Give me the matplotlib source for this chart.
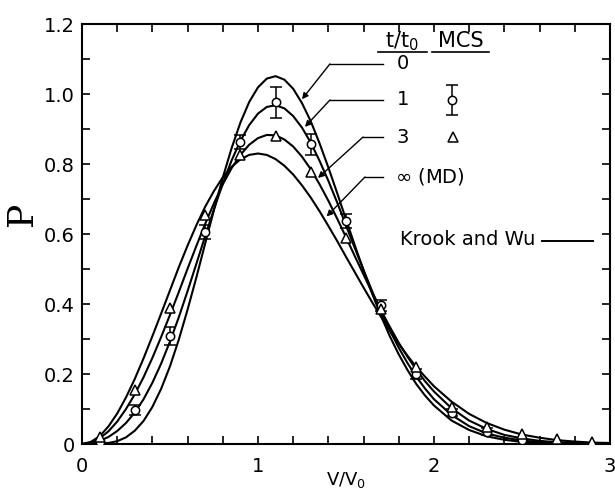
import numpy as np
import matplotlib
matplotlib.use('Agg')
import matplotlib.pyplot as plt
from matplotlib.ticker import MultipleLocator, FixedLocator

# Krook and Wu curves
v_curve = [0.00, 0.05, 0.10, 0.15, 0.20, 0.25, 0.30, 0.35, 0.40, 0.45,
           0.50, 0.55, 0.60, 0.65, 0.70, 0.75, 0.80, 0.85, 0.90, 0.95,
           1.00, 1.05, 1.10, 1.15, 1.20, 1.25, 1.30, 1.35, 1.40, 1.45,
           1.50, 1.55, 1.60, 1.65, 1.70, 1.75, 1.80, 1.85, 1.90, 1.95,
           2.00, 2.10, 2.20, 2.30, 2.40, 2.50, 2.60, 2.70, 2.80, 2.90, 3.00]
p_t0 = [0.000, 0.000, 0.001, 0.003, 0.008, 0.019, 0.038, 0.066, 0.106, 0.158,
        0.222, 0.298, 0.384, 0.476, 0.573, 0.669, 0.761, 0.845, 0.918, 0.977,
        1.019, 1.044, 1.051, 1.041, 1.015, 0.974, 0.922, 0.859, 0.790, 0.717,
        0.642, 0.568, 0.496, 0.428, 0.365, 0.307, 0.256, 0.211, 0.171, 0.138,
        0.110, 0.067, 0.040, 0.022, 0.012, 0.006, 0.003, 0.002, 0.001, 0.000, 0.000]
p_t1 = [0.000, 0.002, 0.009, 0.020, 0.037, 0.060, 0.090, 0.128, 0.175, 0.230,
        0.293, 0.362, 0.437, 0.515, 0.594, 0.671, 0.744, 0.810, 0.866, 0.911,
        0.944, 0.963, 0.968, 0.959, 0.937, 0.904, 0.861, 0.809, 0.752, 0.690,
        0.625, 0.560, 0.497, 0.435, 0.377, 0.324, 0.275, 0.231, 0.192, 0.158,
        0.128, 0.083, 0.051, 0.030, 0.018, 0.010, 0.005, 0.003, 0.001, 0.001, 0.000]
p_t3 = [0.000, 0.004, 0.016, 0.036, 0.064, 0.100, 0.142, 0.191, 0.246, 0.306,
        0.369, 0.434, 0.501, 0.566, 0.629, 0.688, 0.742, 0.788, 0.826, 0.855,
        0.874, 0.883, 0.882, 0.870, 0.850, 0.821, 0.785, 0.742, 0.695, 0.644,
        0.591, 0.537, 0.484, 0.431, 0.381, 0.334, 0.289, 0.249, 0.212, 0.179,
        0.150, 0.102, 0.067, 0.043, 0.026, 0.016, 0.009, 0.005, 0.003, 0.001, 0.001]
p_inf = [0.000, 0.006, 0.022, 0.050, 0.087, 0.133, 0.186, 0.245, 0.308, 0.373,
         0.439, 0.505, 0.567, 0.625, 0.678, 0.723, 0.762, 0.792, 0.813, 0.826,
         0.830, 0.826, 0.814, 0.795, 0.770, 0.739, 0.704, 0.665, 0.623, 0.580,
         0.535, 0.491, 0.447, 0.404, 0.363, 0.323, 0.286, 0.252, 0.220, 0.192,
         0.165, 0.121, 0.086, 0.060, 0.041, 0.027, 0.018, 0.011, 0.007, 0.004, 0.003]

# MCS points
v_mcs1 = [0.1, 0.3, 0.5, 0.7, 0.9, 1.1, 1.3, 1.5, 1.7, 1.9, 2.1, 2.3, 2.5]
p_mcs1 = [0.007, 0.097, 0.308, 0.605, 0.862, 0.976, 0.857, 0.637, 0.396, 0.200, 0.090, 0.035, 0.011]
err_mcs1 = [0.0, 0.015, 0.025, 0.02, 0.02, 0.045, 0.03, 0.02, 0.015, 0.015, 0.01, 0.01, 0.0]
v_mcs3 = [0.1, 0.3, 0.5, 0.7, 0.9, 1.1, 1.3, 1.5, 1.7, 1.9, 2.1, 2.3, 2.5, 2.7, 2.9]
p_mcs3 = [0.021, 0.154, 0.390, 0.653, 0.827, 0.880, 0.776, 0.589, 0.385, 0.220, 0.106, 0.049, 0.028, 0.013, 0.006]

plt.rcParams['font.family'] = 'DejaVu Sans'
plt.rcParams['mathtext.fontset'] = 'dejavusans'

fig = plt.figure(figsize=(6.15, 4.94), dpi=100)
ax = fig.add_axes([0.1333, 0.1012, 0.8585, 0.8502])

for p in (p_t0, p_t1, p_t3, p_inf):
    ax.plot(v_curve, p, color='k', lw=1.5, zorder=2)

v1 = np.array(v_mcs1)
p1 = np.array(p_mcs1)
e1 = np.array(err_mcs1)
m = e1 > 0
ax.errorbar(v1[m], p1[m], yerr=e1[m], fmt='none', ecolor='k', elinewidth=1.1,
            capsize=4, capthick=1.1, zorder=3)
ax.plot(v1, p1, 'o', mfc='white', mec='k', ms=6, mew=1.1, zorder=4)
ax.plot(v_mcs3, p_mcs3, '^', mfc='white', mec='k', ms=6.5, mew=1.1, zorder=4)

# legend-like annotations
ax.text(1.82, 1.134, r't/t$_0$', ha='center', va='baseline', fontsize=15)
ax.text(2.15, 1.134, 'MCS', ha='center', va='baseline', fontsize=15)
ax.plot([1.68, 1.96], [1.12, 1.12], color='k', lw=1.2)
ax.plot([1.99, 2.31], [1.12, 1.12], color='k', lw=1.2)

labels = ['0', '1', '3']
label_y = [1.086, 0.983, 0.877]
for s, y in zip(labels, label_y):
    ax.text(1.824, y, s, ha='center', va='center', fontsize=14)
ax.text(1.78, 0.763, r'$\infty$ (MD)', ha='left', va='center', fontsize=14)

ax.errorbar([2.10], [0.983], yerr=[0.043], fmt='o', mfc='white', mec='k', ms=6,
            mew=1.1, ecolor='k', elinewidth=1.1, capsize=4, capthick=1.1)
ax.plot([2.11], [0.877], '^', mfc='white', mec='k', ms=6.5, mew=1.1)

ax.text(1.807, 0.583, 'Krook and Wu', ha='left', va='center', fontsize=14)
ax.plot([2.614, 2.903], [0.581, 0.581], color='k', lw=1.4)

# leader lines to the curves
leaders = [((1.71, 1.086), (1.409, 1.086), (1.25, 0.985)),
           ((1.71, 0.983), (1.409, 0.983), (1.267, 0.906)),
           ((1.71, 0.877), (1.597, 0.877), (1.341, 0.760)),
           ((1.71, 0.763), (1.608, 0.763), (1.390, 0.650))]
for start, corner, tip in leaders:
    ax.plot([start[0], corner[0]], [start[1], corner[1]], color='k', lw=1.0)
    ax.annotate('', xy=tip, xytext=corner,
                arrowprops=dict(arrowstyle='-|>', color='k', lw=1.0,
                                mutation_scale=9, shrinkA=0, shrinkB=0))

ax.set_xlim(0, 3)
ax.set_ylim(0, 1.2)
ax.xaxis.set_major_locator(FixedLocator([0, 1, 2, 3]))
ax.xaxis.set_minor_locator(MultipleLocator(0.2))
ax.yaxis.set_major_locator(MultipleLocator(0.2))
ax.yaxis.set_minor_locator(MultipleLocator(0.1))
ax.set_xticklabels(['0', '1', '2', '3'])
ax.set_yticks([0, 0.2, 0.4, 0.6, 0.8, 1.0, 1.2])
ax.set_yticklabels(['0', '0.2', '0.4', '0.6', '0.8', '1.0', '1.2'])
ax.tick_params(which='both', direction='in', top=True, right=True,
               length=6, width=1.2, labelsize=14)
ax.tick_params(axis='x', pad=9)
ax.tick_params(axis='y', pad=5)
for sp in ax.spines.values():
    sp.set_linewidth(1.5)

fig.text(0.036, 0.567, 'P', rotation=90, ha='center', va='center',
         fontsize=26, family='DejaVu Serif')
fig.text(0.5626, 0.028, r'V/V$_0$', ha='center', va='center', fontsize=13)

fig.savefig('out.png')
